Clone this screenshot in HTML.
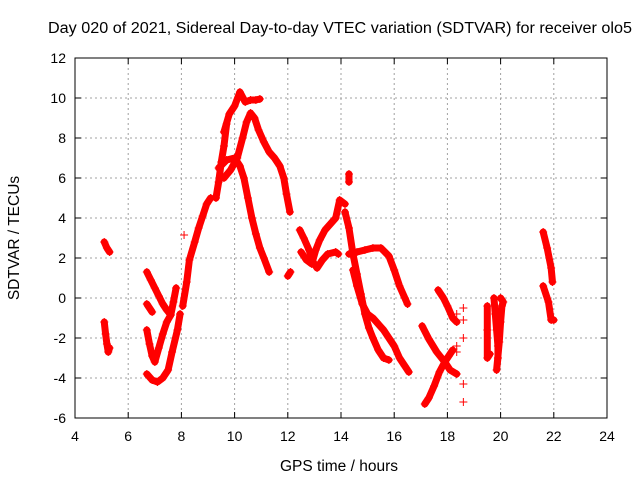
<!DOCTYPE html>
<html><head><meta charset="utf-8"><style>
html,body{margin:0;padding:0;background:#fff;}
svg{display:block;font-family:"Liberation Sans",sans-serif;}
</style></head><body>
<svg id="chart" width="640" height="480" viewBox="0 0 640 480">
<text x="340" y="33" text-anchor="middle" font-size="15.5" textLength="584" lengthAdjust="spacingAndGlyphs">Day 020 of 2021, Sidereal Day-to-day VTEC variation (SDTVAR) for receiver olo5</text>
<text x="339" y="471" text-anchor="middle" font-size="15.5">GPS time / hours</text>
<text transform="translate(19,238) rotate(-90)" text-anchor="middle" font-size="15.5">SDTVAR / TECUs</text>
<g id="grid"></g>
<g id="ticks"></g>
<g id="marks"></g>
<rect x="75" y="58" width="532" height="360" fill="none" stroke="#000" stroke-width="1"/>
</svg>
<script>
const xTicks=[4,6,8,10,12,14,16,18,20,22,24];
const yTicks=[-6,-4,-2,0,2,4,6,8,10,12];
// each track: array of [hour, tecu]
const t1=[[5.1,2.8],[5.2,2.5],[5.3,2.3]];
const t2=[[5.1,-1.2],[5.15,-1.8],[5.2,-2.3],[5.25,-2.7],[5.3,-2.5]];
const t3=[[6.7,1.3],[6.85,0.9],[7.0,0.5],[7.15,0.1],[7.3,-0.3],[7.45,-0.6],[7.6,-0.85],[7.7,-0.2],[7.8,0.5]];
const t4=[[6.7,-0.3],[6.8,-0.5],[6.9,-0.7]];
const t5=[[6.7,-1.6],[6.8,-2.3],[6.9,-2.9],[7.0,-3.2],[7.15,-2.5],[7.3,-1.8],[7.45,-1.2],[7.6,-0.85]];
const t6=[[6.7,-3.8],[6.9,-4.1],[7.1,-4.2],[7.3,-4.0],[7.5,-3.6],[7.65,-2.7],[7.85,-1.6],[7.95,-0.8]];
const t7=[[8.05,-0.4],[8.2,0.8],[8.3,1.9],[8.5,2.8],[8.65,3.5],[8.8,4.1],[8.95,4.7],[9.1,5.0]];
const t8=[[9.3,5.0],[9.4,5.8],[9.5,6.8],[9.6,7.6],[9.7,8.7]];
const t9=[[9.6,6.0],[9.85,6.4],[10.1,7.0],[10.3,8.0],[10.45,8.8],[10.6,9.25],[10.75,9.0],[10.9,8.4],[11.1,7.8],[11.3,7.3],[11.5,7.0],[11.7,6.6],[11.85,6.0],[11.95,5.2],[12.08,4.3]];
const t10=[[9.6,8.3],[9.8,9.2],[10.0,9.6],[10.2,10.3],[10.4,9.8],[10.6,9.9],[10.8,9.9],[10.95,9.95]];
const t11=[[9.4,6.5],[9.7,6.9],[10.0,7.0],[10.2,6.6],[10.35,6.0],[10.5,5.0],[10.65,4.0],[10.8,3.2],[10.95,2.5],[11.1,2.0],[11.3,1.3]];
const t12=[[12.0,1.1],[12.1,1.3]];
const t13=[[12.45,3.4],[12.6,3.0],[12.8,2.4],[12.95,1.8],[13.1,1.5],[13.3,1.9],[13.5,2.2],[13.8,2.3],[13.9,2.2]];
const t14=[[12.5,2.3],[12.7,1.9],[12.9,1.7],[13.05,2.4],[13.2,2.9],[13.4,3.4],[13.6,3.7],[13.8,4.0],[13.95,4.9],[14.15,4.7]];
const t15=[[14.3,6.2],[14.3,5.8]];
const t16=[[14.15,4.3],[14.3,3.5],[14.45,2.2],[14.6,1.2],[14.75,0.2],[14.9,-0.8],[15.05,-1.5],[15.2,-2.0],[15.4,-2.6],[15.6,-3.0],[15.8,-3.1]];
const t17=[[14.3,2.2],[14.6,2.3],[14.9,2.4],[15.2,2.5],[15.5,2.5],[15.8,2.1],[16.0,1.4],[16.2,0.6],[16.4,0.0],[16.5,-0.3]];
const t18=[[14.45,1.4],[14.6,0.6],[14.8,-0.3],[15.0,-0.8],[15.2,-1.0],[15.4,-1.3],[15.6,-1.6],[15.8,-2.0],[16.0,-2.4],[16.2,-3.0],[16.4,-3.4],[16.55,-3.7]];
const t19=[[17.65,0.4],[17.85,0.0],[18.0,-0.4],[18.2,-1.0],[18.35,-1.2]];
const t20=[[17.05,-1.4],[17.3,-2.05],[17.6,-2.7],[17.9,-3.2],[18.1,-3.6],[18.35,-3.8]];
const t21=[[17.15,-5.3],[17.3,-5.0],[17.5,-4.4],[17.7,-3.7],[17.9,-3.2],[18.05,-2.9],[18.2,-2.6]];
const t22=[[18.35,-0.8],[18.6,-0.5],[18.6,-1.1],[18.6,-2.0],[18.35,-2.7],[18.35,-3.8],[18.6,-4.3],[18.6,-5.2],[18.35,-1.2],[18.35,-2.4]];
const t23=[[19.5,-0.4],[19.5,-1.6],[19.5,-3.0],[19.6,-2.8]];
const t24=[[19.75,0.0],[19.8,-0.8],[19.85,-1.6],[19.9,-2.4],[19.9,-3.0],[19.85,-3.6],[19.95,-2.2],[20.0,-1.2],[20.05,-0.4],[20.1,-0.2],[20.0,0.0]];
const t25=[[21.6,3.3],[21.75,2.5],[21.9,1.5],[21.95,0.8]];
const t26=[[21.6,0.6],[21.8,-0.2],[21.9,-1.1],[22.0,-1.1]];
const t27=[[8.1,3.15]];
const tracks=[t1,t2,t3,t4,t5,t6,t7,t8,t9,t10,t11,t12,t13,t14,t15,t16,t17,t18,t19,t20,t21,t23,t24,t25,t26];
const scattered=[t22,t27];

const NS='http://www.w3.org/2000/svg';
const X=h=>75+(h-4)*(532/20);
const Y=v=>58+(12-v)*20;
const grid=document.getElementById('grid'),ticks=document.getElementById('ticks'),marks=document.getElementById('marks');
function mk(tag,attrs,parent){const e=document.createElementNS(NS,tag);for(const k in attrs)e.setAttribute(k,attrs[k]);parent.appendChild(e);return e;}
xTicks.forEach(t=>{
  const x=X(t);
  if(t>4&&t<24){const g=mk('line',{x1:x,x2:x,y1:58,y2:418,stroke:'#a0a0a0','stroke-dasharray':'2,3'},grid);
  
  }
  mk('line',{x1:x,x2:x,y1:418,y2:412,stroke:'#000'},ticks);
  mk('line',{x1:x,x2:x,y1:58,y2:64,stroke:'#000'},ticks);
  const tx=mk('text',{x:x,y:441,'text-anchor':'middle','font-size':'14'},ticks);
  tx.textContent=t;
  
  
});
yTicks.forEach(t=>{
  const y=Y(t);
  if(t>-6&&t<12){const g=mk('line',{x1:75,x2:607,y1:y,y2:y,stroke:'#a0a0a0','stroke-dasharray':'2,3'},grid);
  
  }
  mk('line',{x1:75,x2:81,y1:y,y2:y,stroke:'#000'},ticks);
  mk('line',{x1:607,x2:601,y1:y,y2:y,stroke:'#000'},ticks);
  const tx=mk('text',{x:66,y:y+5,'text-anchor':'end','font-size':'14'},ticks);
  tx.textContent=t;
  
  
});
function plus(p){
  const x=X(p[0]),y=Y(p[1]);
  const m=mk('path',{d:`M${x-4},${y}H${x+4}M${x},${y-4}V${y+4}`,stroke:'#f00','stroke-width':1},marks);
  
  
}
tracks.forEach(tr=>{
  if(tr.length>1){
    const pl=mk('polyline',{points:tr.map(p=>X(p[0])+','+Y(p[1])).join(' '),fill:'none',stroke:'#f00','stroke-width':7,'stroke-linejoin':'round','stroke-linecap':'round'},marks);
    
    
  }
  tr.forEach(plus);
});
scattered.forEach(tr=>tr.forEach(plus));
</script>
</body></html>
